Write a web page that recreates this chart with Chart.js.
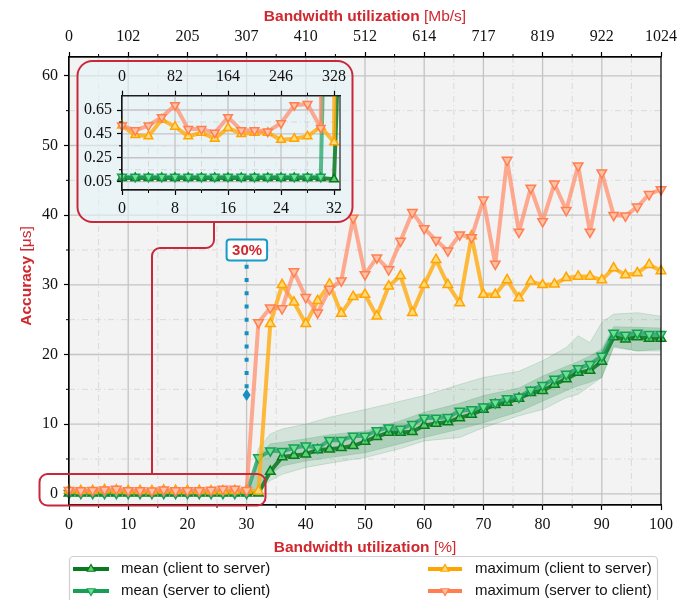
<!DOCTYPE html>
<html>
<head>
<meta charset="utf-8">
<script src="https://cdn.jsdelivr.net/npm/chart.js@4/dist/chart.umd.min.js"></script>
<style>
  html, body { margin: 0; padding: 0; background: #fff; }
  #wrap { position: relative; width: 693px; height: 600px; overflow: hidden; }
  #main { position: absolute; left: 0; top: 0; }
  #inset { position: absolute; left: 77px; top: 61px; }
</style>
</head>
<body>
<div id="wrap">
  <canvas id="main" width="693" height="600"></canvas>
  <canvas id="inset" width="276" height="161"></canvas>
</div>
<script>
// bandwidth utilization [%]
const utilization = [0, 2, 4, 6, 8, 10, 12, 14, 16, 18, 20, 22, 24, 26, 28, 30, 32, 34, 36, 38, 40, 42, 44, 46, 48, 50,
  52, 54, 56, 58, 60, 62, 64, 66, 68, 70, 72, 74, 76, 78, 80, 82, 84, 86, 88, 90, 92, 94, 96, 98, 100];

// accuracy [us]
const meanClientToServer = [0.08, 0.08, 0.08, 0.08, 0.08, 0.08, 0.08, 0.08, 0.08, 0.08, 0.08, 0.08, 0.08, 0.08, 0.08, 0.08, 0.07,
  3.2, 5.3, 5.5, 5.7, 6.3, 6.4, 6.6, 6.9, 7.5, 8.2, 8.8, 8.8, 8.9, 9.8, 10.1, 10.3, 10.9, 11.4, 12.1, 12.8, 13.1, 13.7,
  14.5, 14.8, 15.7, 16.5, 17.4, 17.7, 19.0, 22.5, 22.2, 22.5, 22.3, 22.3];
const meanServerToClient = [0.09, 0.09, 0.09, 0.09, 0.09, 0.09, 0.09, 0.09, 0.09, 0.09, 0.09, 0.09, 0.09, 0.09, 0.09, 0.09,
  5.2, 6.2, 6.1, 6.6, 6.9, 6.6, 7.7, 7.7, 8.3, 8.3, 9.1, 9.5, 9.3, 10.0, 10.9, 10.9, 11.0, 11.9, 12.1, 12.5, 13.1, 13.7,
  13.9, 14.9, 15.6, 16.5, 17.2, 18.0, 18.6, 19.8, 23.1, 22.8, 23.1, 22.9, 22.9];
const maxClientToServer = [0.52, 0.44, 0.43, 0.57, 0.51, 0.43, 0.46, 0.41, 0.50, 0.45, 0.46, 0.46, 0.40, 0.41, 0.43, 0.51, 0.38,
  24.4, 30.0, 27.5, 24.4, 27.7, 30.1, 25.9, 28.3, 28.6, 25.5, 29.8, 31.3, 26.0, 30.0, 33.6, 30.0, 27.4, 37.0, 28.6, 28.6,
  30.7, 28.1, 30.5, 30.0, 30.1, 31.0, 31.2, 31.2, 30.7, 32.4, 31.4, 31.7, 32.9, 32.0];
const maxServerToClient = [0.52, 0.48, 0.52, 0.59, 0.69, 0.49, 0.49, 0.46, 0.59, 0.48, 0.48, 0.47, 0.54, 0.69, 0.70, 0.50,
  24.6, 26.7, 26.6, 31.9, 28.2, 26.0, 29.4, 30.6, 39.6, 31.5, 33.9, 32.2, 36.3, 40.4, 38.1, 36.4, 34.9, 37.2, 36.8, 42.2,
  33.0, 47.9, 37.6, 43.9, 39.1, 44.5, 40.7, 47.1, 37.6, 46.1, 40.0, 39.9, 41.2, 43.0, 43.7];

// spread of the means (shaded bands)
const bandUtil = [0, 30, 31, 32, 34, 36, 40, 44, 50, 56, 60, 66, 70, 76, 80, 84, 86, 88, 90, 92, 96, 100];
const outerHigh = [0.3, 0.3, 3.0, 6.5, 8.6, 9.3, 10.0, 11.0, 12.1, 13.3, 14.1, 15.7, 16.7, 17.6, 19.1, 21.0, 22.7, 21.7, 24.6, 25.8, 26.0, 25.5];
const outerLow = [-0.2, -0.2, 0.0, 0.5, 1.9, 2.8, 3.8, 4.4, 5.2, 6.5, 7.6, 8.1, 9.5, 11.2, 12.1, 13.8, 14.3, 15.5, 16.7, 21.0, 20.5, 20.5];
const innerHigh = [0.2, 0.2, 2.0, 5.5, 7.2, 7.4, 7.9, 8.5, 9.0, 10.5, 11.7, 13.0, 14.1, 15.2, 16.9, 18.3, 19.0, 19.8, 20.8, 24.0, 23.9, 23.8];
const innerLow = [0.0, 0.0, 0.0, 1.0, 2.8, 4.0, 4.7, 5.2, 5.9, 7.2, 8.1, 9.3, 10.2, 11.8, 13.3, 14.8, 15.5, 16.0, 16.7, 21.2, 20.5, 20.8];

// ticks
const xTicks = [0, 10, 20, 30, 40, 50, 60, 70, 80, 90, 100];
const yTicks = [0, 10, 20, 30, 40, 50, 60];
const topTickLabels = ['0', '102', '205', '307', '410', '512', '614', '717', '819', '922', '1024'];
const insetXTicks = [0, 8, 16, 24, 32];
const insetTopLabels = ['0', '82', '164', '246', '328'];
const insetYTicks = [0.05, 0.25, 0.45, 0.65];
const insetYLabels = ['0.05', '0.25', '0.45', '0.65'];

const linkSpeed = 1024; // Mb/s at 100 %
const annotationUtil = 30;
const annotationLabel = '30%';

const RED = '#d0282f';
const TICK_FONT = { family: "'Liberation Serif', 'DejaVu Serif', serif", size: 16 };
const SANS = "'Liberation Sans', Arial, sans-serif";

const series = [
  { label: 'maximum (server to client)', values: maxServerToClient, line: 'rgba(255,140,105,0.72)', edge: '#ff7f50', fill: '#ffc2a6', down: true },
  { label: 'maximum (client to server)', values: maxClientToServer, line: 'rgba(255,172,20,0.82)', edge: '#ffa500', fill: '#ffd97a', down: false },
  { label: 'mean (server to client)', values: meanServerToClient, line: 'rgba(22,160,95,0.7)', edge: '#15a055', fill: '#72de92', down: true },
  { label: 'mean (client to server)', values: meanClientToServer, line: 'rgba(8,118,28,0.85)', edge: '#0a7a20', fill: '#5fcf70', down: false }
];

function lineDatasets(radius) {
  return series.map(s => ({
    label: s.label,
    data: utilization.map((u, i) => ({ x: u, y: s.values[i] })),
    borderColor: s.line,
    borderWidth: 4,
    borderJoinStyle: 'round',
    borderCapStyle: 'round',
    pointStyle: 'triangle',
    pointRotation: s.down ? 180 : 0,
    pointRadius: radius,
    pointBorderWidth: 1.5,
    pointBorderColor: s.edge,
    pointBackgroundColor: s.fill,
    tension: 0,
    fill: false
  }));
}

function bandDataset(values, fillTo, color) {
  return {
    data: bandUtil.map((u, i) => ({ x: u, y: values[i] })),
    borderColor: 'rgba(40,150,80,0.18)',
    borderWidth: 1,
    backgroundColor: color,
    pointRadius: 0,
    tension: 0,
    fill: fillTo
  };
}

function vline(ctx, x, y0, y1) { ctx.beginPath(); ctx.moveTo(x, y0); ctx.lineTo(x, y1); ctx.stroke(); }
function hline(ctx, y, x0, x1) { ctx.beginPath(); ctx.moveTo(x0, y); ctx.lineTo(x1, y); ctx.stroke(); }

function drawGrid(chart, xMajor, xMinor, yMajor, yMinor) {
  const { ctx, chartArea: a, scales } = chart;
  ctx.save();
  ctx.strokeStyle = '#d9d9d9';
  ctx.lineWidth = 1;
  ctx.setLineDash([6, 3, 1, 3]);
  xMinor.forEach(v => vline(ctx, scales.x.getPixelForValue(v), a.top, a.bottom));
  yMinor.forEach(v => hline(ctx, scales.y.getPixelForValue(v), a.left, a.right));
  ctx.setLineDash([]);
  ctx.strokeStyle = '#c4c4c4';
  ctx.lineWidth = 1.3;
  xMajor.forEach(v => vline(ctx, scales.x.getPixelForValue(v), a.top, a.bottom));
  yMajor.forEach(v => hline(ctx, scales.y.getPixelForValue(v), a.left, a.right));
  ctx.restore();
}

function drawMinorTicks(chart, xMinor, yMinor, len) {
  const { ctx, chartArea: a, scales } = chart;
  ctx.save();
  ctx.strokeStyle = '#000';
  ctx.lineWidth = 1;
  xMinor.forEach(v => {
    const px = scales.x.getPixelForValue(v);
    vline(ctx, px, a.bottom, a.bottom + len);
    vline(ctx, px, a.top, a.top - len);
  });
  yMinor.forEach(v => hline(ctx, scales.y.getPixelForValue(v), a.left - len, a.left));
  ctx.restore();
}

function roundRect(ctx, x, y, w, h, r) {
  ctx.beginPath();
  ctx.moveTo(x + r, y);
  ctx.arcTo(x + w, y, x + w, y + h, r);
  ctx.arcTo(x + w, y + h, x, y + h, r);
  ctx.arcTo(x, y + h, x, y, r);
  ctx.arcTo(x, y, x + w, y, r);
  ctx.closePath();
}

function mixedText(ctx, boldPart, normalPart, cx, cy, size) {
  ctx.font = 'bold ' + size + 'px ' + SANS;
  const w1 = ctx.measureText(boldPart).width;
  ctx.font = size + 'px ' + SANS;
  const w2 = ctx.measureText(normalPart).width;
  let x = cx - (w1 + w2) / 2;
  ctx.textBaseline = 'middle';
  ctx.textAlign = 'left';
  ctx.fillStyle = RED;
  ctx.font = 'bold ' + size + 'px ' + SANS;
  ctx.fillText(boldPart, x, cy);
  ctx.font = size + 'px ' + SANS;
  ctx.fillText(normalPart, x + w1, cy);
}

function drawTriangle(ctx, x, y, r, down, edge, fill) {
  ctx.save();
  ctx.translate(x, y);
  if (down) ctx.rotate(Math.PI);
  ctx.beginPath();
  for (let k = 0; k < 3; k++) {
    const ang = k * 2 * Math.PI / 3;
    ctx.lineTo(Math.sin(ang) * r, -Math.cos(ang) * r);
  }
  ctx.closePath();
  ctx.fillStyle = fill;
  ctx.fill();
  ctx.strokeStyle = edge;
  ctx.lineWidth = 1.2;
  ctx.stroke();
  ctx.restore();
}

const mainDecor = {
  id: 'mainDecor',
  beforeDraw(chart) {
    const { ctx, chartArea: a } = chart;
    ctx.save();
    ctx.fillStyle = '#f3f3f3';
    ctx.fillRect(a.left, a.top, a.right - a.left, a.bottom - a.top);
    ctx.restore();
  },
  beforeDatasetsDraw(chart) {
    drawGrid(chart, [10, 20, 30, 40, 50, 60, 70, 80, 90], [5, 15, 25, 35, 45, 55, 65, 75, 85, 95],
      [0, 10, 20, 30, 40, 50, 60], [5, 15, 25, 35, 45, 55]);
  },
  afterDatasetsDraw(chart) {
    const { ctx, chartArea: a, scales } = chart;
    ctx.save();
    // frame
    ctx.strokeStyle = '#000';
    ctx.lineWidth = 1.2;
    ctx.strokeRect(a.left, a.top, a.right - a.left, a.bottom - a.top);
    ctx.restore();
    drawMinorTicks(chart, [5, 15, 25, 35, 45, 55, 65, 75, 85, 95], [5, 15, 25, 35, 45, 55], 3);

    // 30 % annotation
    const ax = scales.x.getPixelForValue(annotationUtil);
    const yTop = scales.y.getPixelForValue(32.9);
    const yEnd = scales.y.getPixelForValue(14.2);
    ctx.save();
    ctx.strokeStyle = '#1590c0';
    ctx.lineWidth = 4;
    ctx.setLineDash([4, 9.3]);
    vline(ctx, ax, yTop, yEnd - 6);
    ctx.setLineDash([]);
    ctx.fillStyle = '#1590c0';
    ctx.beginPath();
    ctx.moveTo(ax, yEnd - 6); ctx.lineTo(ax + 4, yEnd); ctx.lineTo(ax, yEnd + 6); ctx.lineTo(ax - 4, yEnd);
    ctx.closePath(); ctx.fill();
    const ly = scales.y.getPixelForValue(35.0);
    ctx.fillStyle = '#fff';
    roundRect(ctx, ax - 20, ly - 10.5, 40.5, 21, 3);
    ctx.fill();
    ctx.strokeStyle = '#1a9ac8';
    ctx.lineWidth = 2;
    ctx.stroke();
    ctx.fillStyle = RED;
    ctx.font = 'bold 15px ' + SANS;
    ctx.textAlign = 'center';
    ctx.textBaseline = 'middle';
    ctx.fillText(annotationLabel, ax + 0.5, ly + 1);
    ctx.restore();

    // zoom boxes and connector
    ctx.save();
    ctx.fillStyle = 'rgba(228,243,247,0.6)';
    roundRect(ctx, 77.5, 61, 275, 161, 15);
    ctx.fill();
    ctx.strokeStyle = '#c8283a';
    ctx.lineWidth = 2;
    ctx.stroke();
    roundRect(ctx, 39.5, 474, 226, 31.5, 8);
    ctx.stroke();
    ctx.beginPath();
    ctx.moveTo(214, 222);
    ctx.lineTo(214, 240);
    ctx.arcTo(214, 248, 206, 248, 8);
    ctx.lineTo(160, 248);
    ctx.arcTo(152, 248, 152, 256, 8);
    ctx.lineTo(152, 474);
    ctx.stroke();
    ctx.restore();
  },
  afterDraw(chart) {
    const { ctx, chartArea: a } = chart;
    const cx = (a.left + a.right) / 2;
    ctx.save();
    mixedText(ctx, 'Bandwidth utilization', ' [Mb/s]', cx, 17, 15.5);
    mixedText(ctx, 'Bandwidth utilization', ' [%]', cx, 548, 15.5);
    ctx.translate(27, 276);
    ctx.rotate(-Math.PI / 2);
    mixedText(ctx, 'Accuracy', ' [\u03bcs]', 0, 0, 15.5);
    ctx.restore();

    // legend
    ctx.save();
    ctx.strokeStyle = '#cfcfcf';
    ctx.lineWidth = 1.2;
    ctx.fillStyle = '#fff';
    roundRect(ctx, 69.5, 556.5, 588, 60, 4);
    ctx.fill();
    ctx.stroke();
    const items = [
      { s: series[3], x: 73, y: 569 },
      { s: series[2], x: 73, y: 591 },
      { s: series[1], x: 428, y: 569 },
      { s: series[0], x: 428, y: 591 }
    ];
    items.forEach(it => {
      const w = it.x < 100 ? 36 : 34;
      ctx.strokeStyle = it.s.edge;
      ctx.lineWidth = 4;
      hline(ctx, it.y, it.x, it.x + w);
      drawTriangle(ctx, it.x + w / 2, it.y, 4.5, it.s.down, it.s.edge, it.s.fill);
      ctx.fillStyle = '#111';
      ctx.font = '15px ' + SANS;
      ctx.textAlign = 'left';
      ctx.textBaseline = 'middle';
      ctx.fillText(it.s.label, it.x + (it.x < 100 ? 48 : 47), it.y);
    });
    ctx.restore();
  }
};

const axisCommon = {
  ticks: { font: TICK_FONT, color: '#111', maxRotation: 0, autoSkip: false },
  grid: { drawOnChartArea: false, tickLength: 5, tickColor: '#000', tickWidth: 1.2 },
  border: { display: true, color: '#000', width: 1.2 }
};

new Chart(document.getElementById('main'), {
  type: 'line',
  data: {
    datasets: lineDatasets(5.5).concat([
      bandDataset(outerHigh, '+1', 'rgba(50,150,90,0.16)'),
      bandDataset(outerLow, false, 'rgba(0,0,0,0)'),
      bandDataset(innerHigh, '+1', 'rgba(40,140,80,0.22)'),
      bandDataset(innerLow, false, 'rgba(0,0,0,0)')
    ])
  },
  options: {
    responsive: false,
    animation: false,
    clip: false,
    layout: { padding: { left: 0, right: 32, top: 0, bottom: 0 } },
    plugins: { legend: { display: false }, tooltip: { enabled: false } },
    scales: {
      x: {
        type: 'linear', position: 'bottom', min: 0, max: 100,
        afterBuildTicks: s => { s.ticks = xTicks.map(v => ({ value: v })); },
        afterFit: s => { s.height = 95; },
        ticks: { ...axisCommon.ticks, padding: 5 },
        grid: axisCommon.grid, border: axisCommon.border
      },
      x2: {
        type: 'linear', position: 'top', min: 0, max: linkSpeed,
        afterBuildTicks: s => { s.ticks = topTickLabels.map((t, i) => ({ value: i * linkSpeed / 10 })); },
        afterFit: s => { s.height = 57; },
        ticks: { ...axisCommon.ticks, padding: 6, callback: (v, i) => topTickLabels[i] },
        grid: axisCommon.grid, border: axisCommon.border
      },
      y: {
        type: 'linear', min: -1.6, max: 62.7,
        afterBuildTicks: s => { s.ticks = yTicks.map(v => ({ value: v })); },
        afterFit: s => { s.width = 69; },
        ticks: { ...axisCommon.ticks, padding: 6 },
        grid: axisCommon.grid, border: axisCommon.border
      }
    }
  },
  plugins: [mainDecor]
});

// ---- inset: zoom on 0-32 % ----
const insetDecor = {
  id: 'insetDecor',
  beforeDatasetsDraw(chart) {
    drawGrid(chart, [8, 16, 24], [4, 12, 20, 28], [0.05, 0.25, 0.45, 0.65], [0.15, 0.35, 0.55]);
  },
  afterDatasetsDraw(chart) {
    const { ctx, chartArea: a } = chart;
    ctx.save();
    ctx.strokeStyle = '#222';
    ctx.lineWidth = 1.2;
    ctx.strokeRect(a.left, a.top, a.right - a.left, a.bottom - a.top);
    ctx.restore();
    drawMinorTicks(chart, [4, 12, 20, 28], [0.15, 0.35, 0.55], 3);
  }
};

const insetMax = 32.9;
new Chart(document.getElementById('inset'), {
  type: 'line',
  data: { datasets: lineDatasets(5).map(d => ({ ...d, clip: { left: 8, right: 8, top: 0, bottom: 8 } })) },
  options: {
    responsive: false,
    animation: false,
    layout: { padding: { left: 0, right: 13, top: 0, bottom: 0 } },
    plugins: { legend: { display: false }, tooltip: { enabled: false } },
    scales: {
      x: {
        type: 'linear', position: 'bottom', min: 0, max: insetMax,
        afterBuildTicks: s => { s.ticks = insetXTicks.map(v => ({ value: v })); },
        afterFit: s => { s.height = 32; },
        ticks: { ...axisCommon.ticks, padding: 4 },
        grid: axisCommon.grid, border: axisCommon.border
      },
      x2: {
        type: 'linear', position: 'top', min: 0, max: insetMax * linkSpeed / 100,
        afterBuildTicks: s => { s.ticks = insetXTicks.map(v => ({ value: v * linkSpeed / 100 })); },
        afterFit: s => { s.height = 34.7; },
        ticks: { ...axisCommon.ticks, padding: 4, callback: (v, i) => insetTopLabels[i] },
        grid: axisCommon.grid, border: axisCommon.border
      },
      y: {
        type: 'linear', min: -0.02, max: 0.77,
        afterBuildTicks: s => { s.ticks = insetYTicks.map(v => ({ value: v })); },
        afterFit: s => { s.width = 45; },
        ticks: { ...axisCommon.ticks, padding: 5, callback: (v, i) => insetYLabels[i] },
        grid: axisCommon.grid, border: axisCommon.border
      }
    }
  },
  plugins: [insetDecor]
});
</script>
</body>
</html>
